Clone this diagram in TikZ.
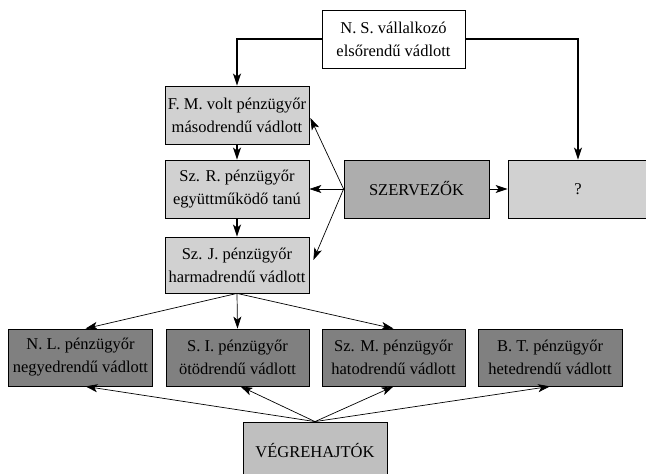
\documentclass[tikz,border=0pt]{standalone}
\usepackage{fontspec}
\setmainfont{Liberation Serif}
\usetikzlibrary{arrows.meta,calc}

\begin{document}
\begin{tikzpicture}[x=1pt, y=-1pt,
font=\fontsize{16.5}{23}\selectfont,
box/.style={rectangle,draw,line width=0.8pt,align=center,inner sep=0pt,
  minimum width=144pt,minimum height=58pt},
accused/.style={box,fill=black!18},
organiser/.style={box,fill=black!32},
executor/.style={box,fill=black!50},
link/.style={-{Stealth[length=12pt,width=8pt,inset=3pt]},line width=0.7pt},
mainlink/.style={link,line width=1.6pt}
]
\useasboundingbox (0,0) rectangle (646,474);

%% top of the chain
\node[box, fill=white, minimum width=143pt] (ns) at (393.5,39) {N. S. vállalkozó\\elsőrendű vádlott};
\node[accused] (fm) at (237,115) {F. M. volt pénzügyőr\\másodrendű vádlott};
\node[accused] (szr) at (237,189) {Sz. R. pénzügyőr\\együttműködő tanú};
\node[accused, minimum height=56pt] (szj) at (237,265) {Sz. J. pénzügyőr\\harmadrendű vádlott};
\node[organiser, minimum width=145pt] (szerv) at (416.5,189) {SZERVEZŐK};
\node[accused, minimum width=140pt] (q) at (578,189) {?};

%% lower row
\node[executor, minimum height=57pt] (nl) at (80.5,357.5) {N. L. pénzügyőr\\negyedrendű vádlott};
\node[executor, minimum height=57pt, minimum width=143pt] (si) at (237.5,357.5) {S. I. pénzügyőr\\ötödrendű vádlott};
\node[executor, minimum height=57pt, minimum width=143pt] (szm) at (393.5,357.5) {Sz. M. pénzügyőr\\hatodrendű vádlott};
\node[executor, minimum height=57pt] (bt) at (550,357.5) {B. T. pénzügyőr\\hetedrendű vádlott};
\node[box, fill=black!25] (veg) at (315,451) {VÉGREHAJTÓK};

\draw[mainlink] (ns.west) -| (fm.north);
\draw[mainlink, line width=1.2pt] (ns.east) -| (q.north);
\draw[mainlink] (fm.south) -- (szr.north);
\draw[mainlink] (szr.south) -- (szj.north);

\draw[link] (szerv.west) -- ($(fm.east)+(1,3)$);
\draw[link] (szerv.west) -- (szr.east);
\draw[link] (szerv.west) -- ($(szj.east)+(4,-5)$);
\draw[mainlink, line width=1pt] (szerv.east) -- (q.west);

\draw[link] (szj.south) -- ($(nl.north)+(5,0)$);
\draw[link] (szj.south) -- (si.north);
\draw[link] (szj.south) -- (szm.north);

\draw[link] (veg.north) -- ($(nl.south)+(5,0)$);
\draw[link] (veg.north) -- ($(si.south)+(3,0)$);
\draw[link] (veg.north) -- (szm.south);
\draw[link] (veg.north) -- (bt.south);
\end{tikzpicture}
\end{document}
